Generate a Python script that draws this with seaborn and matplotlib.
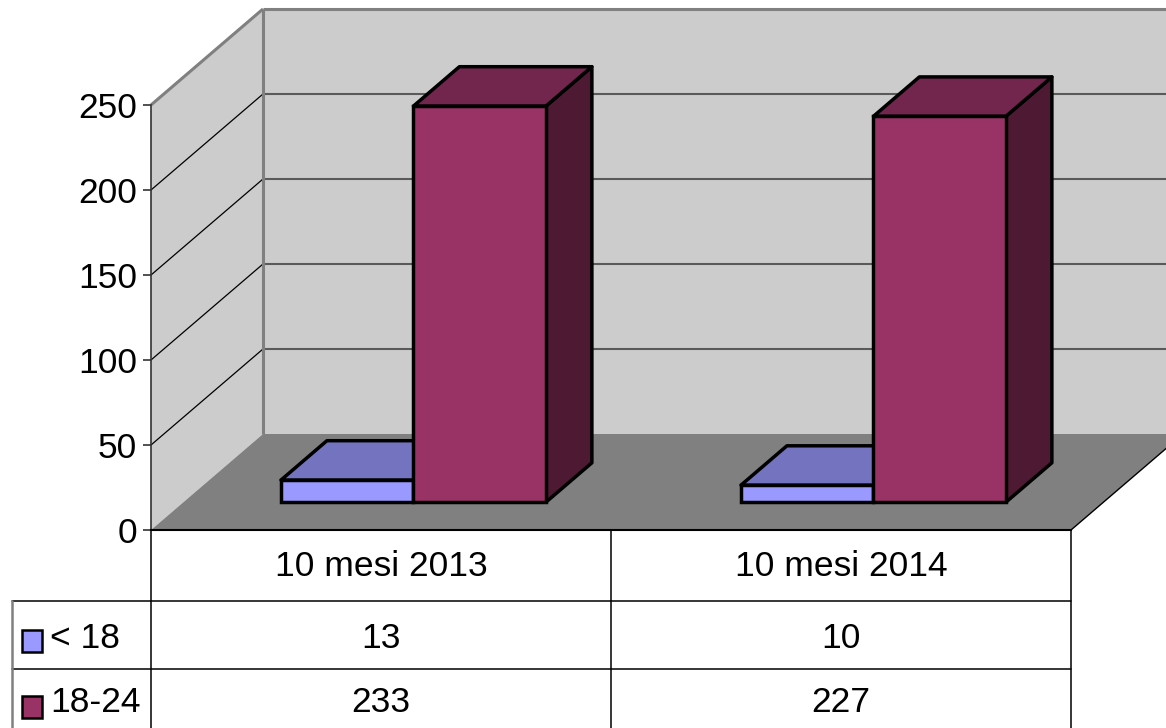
import matplotlib
matplotlib.use("Agg")
import matplotlib.pyplot as plt
import matplotlib.transforms as mtransforms
from matplotlib.patches import Polygon, Rectangle
from matplotlib.lines import Line2D
import pandas as pd
import seaborn as sns

# ---- data -------------------------------------------------------------
periods = ["10 mesi 2013", "10 mesi 2014"]
age_groups = ["< 18", "18-24"]
under_18 = [13, 10]
age_18_24 = [233, 227]
y_ticks = [0, 50, 100, 150, 200, 250]

# ---- styling ----------------------------------------------------------
front_colors = ["#9999FF", "#993366"]
top_colors = ["#7373C0", "#73264D"]
side_colors = ["#4D4D80", "#4D1933"]
wall_color = "#CCCCCC"
floor_color = "#808080"

sns.set_theme(style="white")
plt.rcParams["font.family"] = ["Liberation Sans", "DejaVu Sans"]
FS = 25.5

W, H = 1166, 728
fig = plt.figure(figsize=(W / 100, H / 100), dpi=100)

# front plane of the 3D box, in pixels
left_px, right_px, base_px, top_px = 151, 1071, 530, 105
ax = fig.add_axes([left_px / W, 1 - base_px / H,
                   (right_px - left_px) / W, (base_px - top_px) / H])
ax.patch.set_visible(False)

ymax = y_ticks[-1]
n_cat = len(periods)
xmin, xmax = -0.5, n_cat - 0.5

# depth vector of the box expressed in data units
px_per_cat = (right_px - left_px) / n_cat
px_per_val = (base_px - top_px) / ymax
DX = 112 / px_per_cat
DY = 96 / px_per_val

# bars sit between these fractions of the floor depth
bar_front, bar_depth = 0.29, 0.41

# ---- walls and floor --------------------------------------------------
common = dict(clip_on=False, transform=ax.transData)
ax.add_patch(Polygon([(xmin + DX, DY), (xmax + DX, DY), (xmax + DX, DY + ymax),
                      (xmin + DX, DY + ymax)], closed=True, fc=wall_color,
                     ec="none", zorder=0, **common))
ax.add_patch(Polygon([(xmin, 0), (xmin, ymax), (xmin + DX, ymax + DY),
                      (xmin + DX, DY)], closed=True, fc=wall_color,
                     ec="none", zorder=0, **common))
ax.add_patch(Polygon([(xmin, 0), (xmin + DX, DY), (xmax + DX, DY), (xmax, 0)],
                     closed=True, fc=floor_color, ec="none", zorder=0.5, **common))

for v in y_ticks[1:-1]:
    ax.add_line(Line2D([xmin + DX, xmax + DX], [v + DY, v + DY], color="#5A5A5A",
                       lw=1.5, zorder=0.8, **common))
    ax.add_line(Line2D([xmin, xmin + DX], [v, v + DY], color="black",
                       lw=0.9, zorder=0.8, **common))

edge_kw = dict(color="#808080", lw=2.2, zorder=0.9, solid_capstyle="butt", **common)
ax.add_line(Line2D([xmin, xmin + DX], [ymax, ymax + DY], **edge_kw))
ax.add_line(Line2D([xmin + DX, xmin + DX], [DY, ymax + DY], **edge_kw))
ax.add_line(Line2D([xmin + DX, xmax + DX], [ymax + DY, ymax + DY], **edge_kw))
ax.add_line(Line2D([xmax, xmax + DX], [0, DY], color="black", lw=1,
                   zorder=0.9, **common))

# ---- bars (front faces from seaborn, extruded into depth) -------------
df = pd.DataFrame({
    "period": periods * 2,
    "group": [age_groups[0]] * n_cat + [age_groups[1]] * n_cat,
    "count": under_18 + age_18_24,
})
sns.barplot(data=df, x="period", y="count", hue="group", order=periods,
            hue_order=age_groups, palette=front_colors, saturation=1,
            width=0.576, dodge=True, errorbar=None, legend=False,
            edgecolor="black", linewidth=2.5, ax=ax)

ox, oy = DX * bar_front, DY * bar_front
bdx, bdy = DX * bar_depth, DY * bar_depth
shift = mtransforms.Affine2D().translate(ox, oy) + ax.transData

for p in list(ax.patches):
    if not isinstance(p, Rectangle) or p.get_width() == 0:
        continue
    w, h = p.get_width(), p.get_height()
    xc = p.get_x() + w / 2
    cat = int(round(xc))
    hue = 0 if xc < cat else 1
    base_z = 2 + cat * 10 + hue * 3
    p.set_transform(shift)
    p.set_clip_on(False)
    p.set_zorder(base_z + 2)
    p.set_joinstyle("miter")
    x0 = p.get_x() + ox
    y0 = oy
    face_kw = dict(closed=True, ec="black", lw=2.5, joinstyle="round",
                   zorder=base_z + 1, **common)
    top = Polygon([(x0, y0 + h), (x0 + w, y0 + h), (x0 + w + bdx, y0 + h + bdy),
                   (x0 + bdx, y0 + h + bdy)], fc=top_colors[hue], **face_kw)
    side = Polygon([(x0 + w, y0), (x0 + w + bdx, y0 + bdy),
                    (x0 + w + bdx, y0 + h + bdy), (x0 + w, y0 + h)],
                   fc=side_colors[hue], **face_kw)
    ax.add_patch(side)
    ax.add_patch(top)

# ---- axes -------------------------------------------------------------
ax.set_xlim(xmin, xmax)
ax.set_ylim(0, ymax)
ax.set_xticks([])
ax.set_xlabel("")
ax.set_ylabel("")
ax.set_yticks(y_ticks)
ax.set_yticklabels([str(v) for v in y_ticks])
ax.tick_params(axis="y", direction="out", length=6, width=1.2, color="#333333",
               labelsize=FS, labelcolor="black", pad=4, left=True)
for s in ("top", "right"):
    ax.spines[s].set_visible(False)
ax.spines["left"].set_color("#333333")
ax.spines["left"].set_linewidth(1.2)
ax.spines["left"].set_zorder(1)
ax.spines["bottom"].set_color("black")
ax.spines["bottom"].set_linewidth(1.5)
ax.spines["bottom"].set_zorder(1)

# ---- data table below the chart ---------------------------------------
blend = mtransforms.blended_transform_factory(ax.transData, fig.transFigure)


def fy(py):
    return 1 - py / H


row_lines = [601, 669]
header_y, row_y = 566, [638, 703]
swatch_y = [641, 707]
table_left = 12

line_kw = dict(color="black", lw=1.1)
for xb in [xmin + i for i in range(n_cat + 1)]:
    fig.add_artist(Line2D([xb, xb], [fy(base_px), 0], transform=blend, **line_kw))
for ly in row_lines:
    fig.add_artist(Line2D([table_left / W, right_px / W], [fy(ly), fy(ly)],
                          transform=fig.transFigure, **line_kw))
fig.add_artist(Line2D([table_left / W, table_left / W], [fy(row_lines[0]), 0],
                      transform=fig.transFigure, color="#808080", lw=1.8))

for i, name in enumerate(periods):
    fig.text(i, fy(header_y), name, transform=blend, ha="center", va="center",
             fontsize=FS, color="black")

for r, values in enumerate([under_18, age_18_24]):
    for i, v in enumerate(values):
        fig.text(i, fy(row_y[r]), str(v), transform=blend, ha="center",
                 va="center", fontsize=FS, color="black")
    fig.add_artist(Rectangle((22 / W, fy(swatch_y[r] + 11)), 20 / W, 22 / H,
                             transform=fig.transFigure, fc=front_colors[r],
                             ec="black", lw=1.8))
    fig.text(50 / W, fy(row_y[r]), age_groups[r], ha="left", va="center",
             fontsize=FS, color="black")

fig.savefig("out.png", dpi=100)
